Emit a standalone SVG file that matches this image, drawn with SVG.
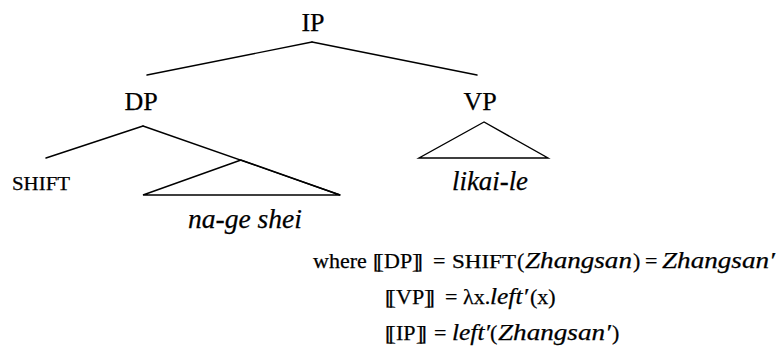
<svg xmlns="http://www.w3.org/2000/svg" width="777" height="356" viewBox="0 0 777 356">
  <style>
    text { font-family: "Liberation Serif", "Times New Roman", serif; fill: #000; stroke: #000; stroke-width: 0.25; }
    .cat { font-size: 26px; text-anchor: middle; }
    .leaf { font-size: 27px; font-style: italic; }
    .sc { font-size: 19px; }
    .f { font-size: 22px; }
    .fi { font-size: 23px; font-style: italic; }
    .fsc { font-size: 18px; }
    .edge { stroke: #000; stroke-width: 1.4; fill: none; stroke-linecap: round; }
  </style>
  <defs>
    <!-- double (semantic) brackets built from two overlapping square brackets -->
    <g id="lbr"><text class="f" x="0" y="0">[</text><text class="f" x="3.5" y="0">[</text></g>
    <g id="rbr"><text class="f" x="0" y="0">]</text><text class="f" x="3.5" y="0">]</text></g>
  </defs>

  <!-- tree branches -->
  <g id="connectors">
    <line class="edge" x1="312" y1="42" x2="147" y2="75"/>
    <line class="edge" x1="312" y1="42" x2="477" y2="75"/>
    <line class="edge" x1="143" y1="126" x2="46" y2="158"/>
    <line class="edge" x1="143" y1="126" x2="340" y2="195"/>
    <polygon class="edge" points="241,160 143,195 340,195"/>
    <polygon class="edge" points="484,122 419,158 548,158"/>
  </g>

  <g id="node-IP"><text class="cat" x="313" y="31">IP</text></g>
  <g id="node-DP"><text class="cat" x="141" y="110">DP</text></g>
  <g id="node-VP"><text class="cat" x="480" y="110">VP</text></g>
  <g id="node-SHIFT"><text class="sc" x="12" y="190" textLength="58" lengthAdjust="spacingAndGlyphs">SHIFT</text></g>
  <g id="node-nage-shei"><text class="leaf" x="188" y="228" textLength="114" lengthAdjust="spacingAndGlyphs">na-ge shei</text></g>
  <g id="node-likai-le"><text class="leaf" x="452" y="190" textLength="76" lengthAdjust="spacingAndGlyphs">likai-le</text></g>

  <!-- denotations -->
  <g id="semantics">
    <text class="f" x="313" y="268">where</text>
    <use href="#lbr" x="373" y="268"/>
    <text class="f" x="384" y="268">DP</text>
    <use href="#rbr" x="412" y="268"/>
    <text class="f" x="433" y="268">=</text>
    <text class="fsc" x="452" y="268" textLength="64" lengthAdjust="spacingAndGlyphs">SHIFT</text>
    <text class="f" x="517" y="268">(</text>
    <text class="fi" x="525" y="268" textLength="107" lengthAdjust="spacingAndGlyphs">Zhangsan</text>
    <text class="f" x="633" y="268">)</text>
    <text class="f" x="645" y="268">=</text>
    <text class="fi" x="662" y="268" textLength="113" lengthAdjust="spacingAndGlyphs">Zhangsan′</text>

    <use href="#lbr" x="385" y="304"/>
    <text class="f" x="396" y="304">VP</text>
    <use href="#rbr" x="424" y="304"/>
    <text class="f" x="445" y="304">=</text>
    <text class="f" x="463" y="304">λx.</text>
    <text class="fi" x="490" y="304" textLength="38" lengthAdjust="spacingAndGlyphs">left′</text>
    <text class="f" x="530" y="304">(x)</text>

    <use href="#lbr" x="385" y="340"/>
    <text class="f" x="396" y="340">IP</text>
    <use href="#rbr" x="416" y="340"/>
    <text class="f" x="434" y="340">=</text>
    <text class="fi" x="452" y="340" textLength="38" lengthAdjust="spacingAndGlyphs">left′</text>
    <text class="f" x="490" y="340">(</text>
    <text class="fi" x="498" y="340" textLength="113" lengthAdjust="spacingAndGlyphs">Zhangsan′</text>
    <text class="f" x="612" y="340">)</text>
  </g>
</svg>
